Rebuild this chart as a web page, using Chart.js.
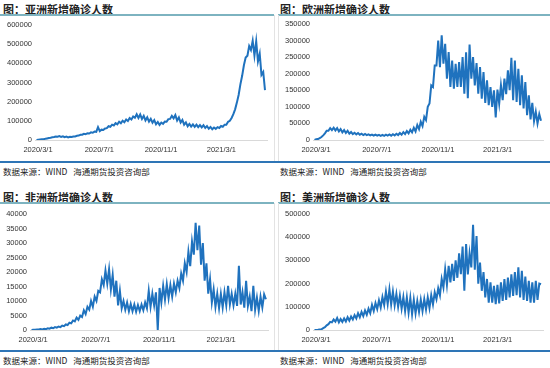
<!DOCTYPE html>
<html>
<head>
<meta charset="utf-8">
<script src="https://cdn.jsdelivr.net/npm/chart.js@4"></script>
<style>
  body { margin: 0; background: #fff; width: 550px; height: 368px; position: relative; overflow: hidden; }
  .title { position: absolute; font: bold 11px "Noto Sans CJK SC", sans-serif; color: #222; line-height: 14px; white-space: nowrap; }
  .src { position: absolute; font: 8.5px "Noto Sans CJK SC", sans-serif; color: #222; line-height: 12px; white-space: nowrap; }
  .hline { position: absolute; height: 2px; background: #7db3c0; }
  .bline { position: absolute; height: 2px; background: #2e75b6; }
  .vline { position: absolute; width: 1px; background: #e3e3e3; }
  canvas { position: absolute; }
</style>
</head>
<body>

<div class="title" style="left:3px; top:2px;">图：亚洲新增确诊人数</div>
<div class="title" style="left:280px; top:2px;">图：欧洲新增确诊人数</div>
<div class="title" style="left:3px; top:190px;">图：非洲新增确诊人数</div>
<div class="title" style="left:280px; top:190px;">图：美洲新增确诊人数</div>

<div class="hline" style="left:0; top:14px; width:274px;"></div>
<div class="hline" style="left:278px; top:14px; width:272px;"></div>
<div class="hline" style="left:0; top:202px; width:274px;"></div>
<div class="hline" style="left:278px; top:202px; width:272px;"></div>

<div class="vline" style="left:274px; top:15px; height:146px;"></div>
<div class="vline" style="left:278px; top:15px; height:146px;"></div>
<div class="vline" style="left:274px; top:203px; height:147px;"></div>
<div class="vline" style="left:278px; top:203px; height:147px;"></div>

<div class="bline" style="left:0; top:161px; width:550px;"></div>
<div class="bline" style="left:0; top:350px; width:550px;"></div>

<div class="src" style="left:3px; top:165px;">数据来源：WIND&nbsp;&nbsp;&nbsp;海通期货投资咨询部</div>
<div class="src" style="left:280px; top:165px;">数据来源：WIND&nbsp;&nbsp;&nbsp;海通期货投资咨询部</div>
<div class="src" style="left:3px; top:354px;">数据来源：WIND&nbsp;&nbsp;&nbsp;海通期货投资咨询部</div>
<div class="src" style="left:280px; top:354px;">数据来源：WIND&nbsp;&nbsp;&nbsp;海通期货投资咨询部</div>

<canvas id="chartAsia" width="274" height="144" style="left:0; top:16px;"></canvas>
<canvas id="chartEurope" width="272" height="144" style="left:278px; top:16px;"></canvas>
<canvas id="chartAfrica" width="274" height="146" style="left:0; top:204px;"></canvas>
<canvas id="chartAmerica" width="272" height="146" style="left:278px; top:204px;"></canvas>

<script>
// eje x: días desde 2020/3/1; una semana = un mínimo y un máximo
const xTickLabels = ["2020/3/1", "2020/7/1", "2020/11/1", "2021/3/1"];
const firstWeekDay = -3; // 2020/2/27

// Asia (semanal: mínimo / máximo)
const asiaLo = [0, 2500, 4500, 8000, 12000, 15500, 17500, 16500, 14500, 13500,
  15500, 18500, 23000, 27500, 30500, 34000, 38000, 42500, 46500, 52000,
  62000, 69000, 76000, 82000, 87000, 93000, 99000, 107000, 116000, 115000,
  110000, 102000, 96000, 90000, 82000, 79000, 84000, 95000, 110000, 113000,
  102000, 91000, 80000, 72000, 70000, 69000, 67000, 66000, 63000, 59000,
  56000, 58000, 63000, 69000, 80000, 100000, 135000, 195000, 290000, 390000,
  440000, 470000, 440000, 410000, 340000, 260000];
const asiaHi = [1500, 3500, 6000, 10000, 14500, 18500, 20500, 19500, 17500, 16500,
  18500, 22000, 27000, 32500, 35500, 40000, 44000, 67000, 54000, 60000,
  72000, 80000, 88000, 95000, 101000, 107000, 115000, 123000, 134000, 133000,
  126000, 118000, 110000, 104000, 94000, 91000, 96000, 109000, 126000, 130000,
  118000, 105000, 92000, 84000, 81000, 80000, 78000, 77000, 73000, 68000,
  65000, 67000, 73000, 80000, 95000, 115000, 160000, 235000, 335000, 430000,
  490000, 518000, 515000, 450000, 355000];

// Europa
const europeLo = [0, 3000, 9000, 20000, 28000, 30000, 29000, 26000, 23000, 21000,
  19000, 18000, 17000, 16000, 15000, 14500, 14000, 13500, 13000, 12500,
  12500, 13000, 13000, 14000, 15000, 16000, 18000, 20000, 23000, 26000,
  33000, 42000, 60000, 110000, 160000, 225000, 220000, 230000, 185000, 160000,
  155000, 160000, 160000, 140000, 126000, 185000, 165000, 140000, 125000, 112000,
  105000, 100000, 68000, 110000, 120000, 138000, 150000, 120000, 115000, 105000,
  95000, 75000, 62000, 57000, 50000, 58000];
const europeHi = [2000, 6000, 14000, 28000, 36000, 37000, 36000, 33000, 30000, 28000,
  24000, 22000, 21000, 19000, 18000, 17000, 16500, 16000, 15500, 15500,
  16000, 16500, 17500, 19000, 21000, 24000, 27000, 31000, 37000, 45000,
  55000, 70000, 100000, 165000, 225000, 300000, 316000, 290000, 265000, 240000,
  230000, 235000, 250000, 265000, 288000, 250000, 232000, 220000, 205000, 180000,
  160000, 150000, 152000, 165000, 185000, 210000, 248000, 240000, 215000, 195000,
  175000, 135000, 112000, 85000, 78000];

// Africa
const africaLo = [0, 100, 150, 200, 300, 450, 600, 800, 1000, 1300,
  1700, 2300, 3000, 3500, 4500, 5500, 7000, 8000, 10000, 13000,
  15500, 16000, 14000, 11500, 8500, 7500, 7000, 6500, 6500, 6300,
  6500, 6800, 7500, 8000, 8500, 0, 9500, 10500, 11000, 11500,
  13000, 14500, 17000, 20000, 22000, 26000, 27500, 22500, 17000, 12500,
  9500, 8000, 7500, 7800, 8500, 8800, 8500, 8300, 8800, 7700,
  8300, 6500, 7000, 6600, 7800, 10600];
const africaHi = [100, 200, 300, 400, 600, 800, 1000, 1200, 1500, 1900,
  2500, 3300, 4300, 5000, 6800, 8000, 10000, 11500, 13500, 17500,
  20500, 21000, 19000, 17000, 13500, 10000, 9500, 9000, 8800, 8600,
  8800, 9500, 13500, 12500, 13000, 14500, 15200, 15800, 15500, 16000,
  17000, 19500, 23000, 27000, 30500, 37000, 36000, 30000, 23000, 17500,
  14000, 12500, 12500, 13000, 15200, 12500, 12500, 22100, 13000, 17000,
  11500, 15200, 11200, 11500, 12300];

// America
const americaLo = [0, 1000, 3000, 12000, 25000, 33000, 36000, 33000, 35000, 37000,
  40000, 45000, 50000, 55000, 60000, 66000, 72000, 82000, 90000, 97000,
  108000, 112000, 110000, 106000, 100000, 92000, 82000, 75000, 68000, 72000,
  78000, 82000, 88000, 95000, 110000, 133000, 150000, 183000, 195000, 205000,
  212000, 225000, 241000, 169000, 240000, 270000, 260000, 200000, 169000, 140000,
  118000, 118000, 111000, 115000, 125000, 130000, 140000, 147000, 150000, 140000,
  130000, 125000, 118000, 118000, 130000, 197000];
const americaHi = [500, 2500, 8000, 20000, 35000, 45000, 52000, 47000, 50000, 55000,
  58000, 64000, 72000, 78000, 84000, 92000, 108000, 116000, 128000, 142000,
  165000, 175000, 165000, 155000, 148000, 142000, 140000, 138000, 130000, 125000,
  130000, 133000, 140000, 150000, 162000, 180000, 220000, 262000, 277000, 285000,
  300000, 330000, 360000, 370000, 330000, 454000, 405000, 291000, 250000, 220000,
  205000, 190000, 195000, 205000, 219000, 226000, 240000, 250000, 270000, 255000,
  230000, 212000, 205000, 212000, 200000];

function dayOf(label) {
  const [y, m, d] = label.split("/").map(Number);
  return Math.round((Date.UTC(y, m - 1, d) - Date.UTC(2020, 2, 1)) / 86400000);
}
const xTickDays = xTickLabels.map(dayOf);

function weeklyPoints(lo, hi) {
  const pts = [];
  lo.forEach((v, k) => {
    pts.push({ x: firstWeekDay + 7 * k, y: v });
    if (hi[k] !== undefined) pts.push({ x: firstWeekDay + 7 * k + 3.5, y: hi[k] });
  });
  return pts;
}

const tickFont = { family: "'Liberation Sans', Arial, sans-serif", size: 7.5 };

function crearGrafico(id, lo, hi, yMax, yStep, yWidth, padTop, padRight) {
  return new Chart(document.getElementById(id), {
    type: "line",
    data: {
      datasets: [
        {
          data: weeklyPoints(lo, hi),
          borderColor: "#1f72be",
          borderWidth: 2,
          pointRadius: 0,
          tension: 0,
          fill: false,
        },
      ],
    },
    options: {
      responsive: false,
      animation: false,
      devicePixelRatio: 1,
      layout: { padding: { top: padTop, right: padRight, left: 0, bottom: 0 } },
      plugins: { legend: { display: false }, tooltip: { enabled: false } },
      scales: {
        x: {
          type: "linear",
          min: -6,
          max: 456,
          grid: { display: false, drawTicks: false },
          border: { display: true, color: "#d9d9d9", width: 1 },
          afterBuildTicks: (axis) => {
            axis.ticks = xTickDays.map((v) => ({ value: v }));
          },
          afterFit: (axis) => {
            axis.height = 20;
          },
          ticks: {
            font: tickFont,
            color: "#333",
            padding: 5,
            maxRotation: 0,
            autoSkip: false,
            callback: (v) => xTickLabels[xTickDays.indexOf(v)],
          },
        },
        y: {
          min: 0,
          max: yMax,
          grid: { display: false, drawTicks: false },
          border: { display: false },
          afterFit: (axis) => {
            axis.width = yWidth;
          },
          ticks: {
            stepSize: yStep,
            font: tickFont,
            color: "#333",
            padding: 3,
            callback: (v) => String(v),
          },
        },
      },
    },
  });
}

crearGrafico("chartAsia", asiaLo, asiaHi, 600000, 100000, 35, 9, 7);
crearGrafico("chartEurope", europeLo, europeHi, 350000, 50000, 35, 8, 7);
crearGrafico("chartAfrica", africaLo, africaHi, 40000, 5000, 30, 10, 6);
crearGrafico("chartAmerica", americaLo, americaHi, 500000, 50000, 35, 10, 7);
</script>
</body>
</html>
